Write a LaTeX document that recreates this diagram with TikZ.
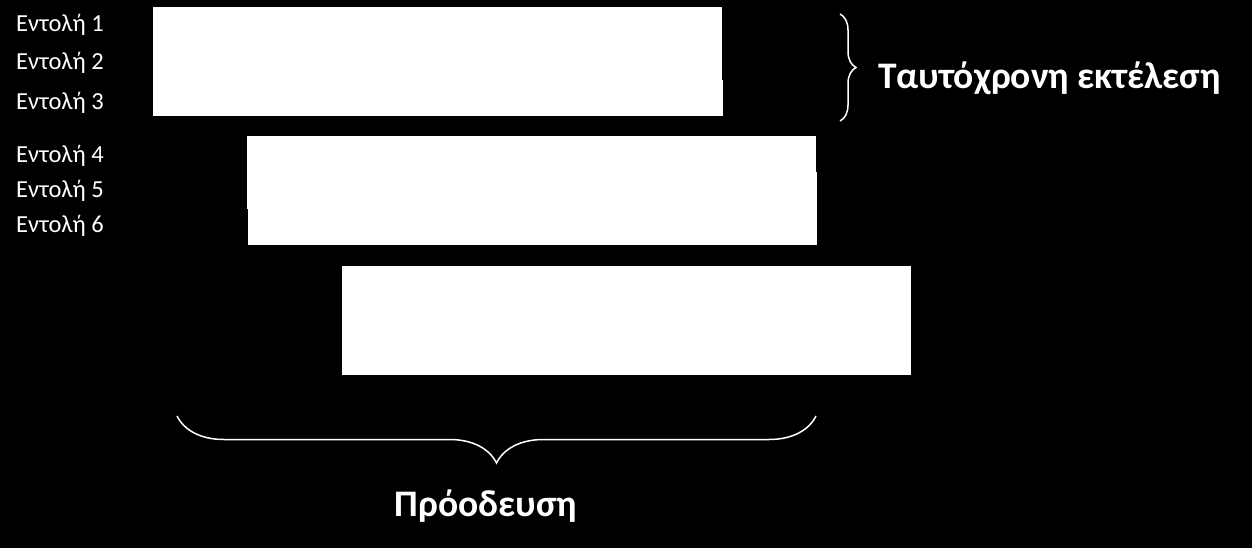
\documentclass[tikz,border=0pt]{standalone}
\usepackage{fontspec}
\setmainfont{Carlito}
\usetikzlibrary{calc}
\usetikzlibrary{decorations.pathreplacing}

\begin{document}
\begin{tikzpicture}[x=1pt,y=-1pt,
    row/.style={fill=white,inner sep=0pt,outer sep=0pt,minimum height=36.3pt,anchor=north west},
    lbl/.style={white,inner sep=0pt,anchor=base west,font=\fontsize{24.5}{29}\selectfont},
    ttl/.style={white,inner sep=0pt,font=\bfseries\fontsize{37.5}{45}\selectfont},
    brc/.style={white,line width=1.5pt,decorate}]
            % Define the sizes of the picture
            \def\W{1252}  % width of the picture
            \def\H{548}  % height of the picture

            % Black background
            \fill[black] (0,0) rectangle (\W,\H);
            \useasboundingbox (0,0) rectangle (\W,\H);

            % Draw the rows of the three blocks
            \foreach \i/\xa/\ya/\xb in {1/153/7/722, 2/153/43.3/722, 3/153/79.6/723,
                                        4/247/136/816, 5/247/172.3/817, 6/248/208.6/817,
                                        7/342/266/911, 8/342/302.3/911, 9/342/338.6/911}
                \node[row,minimum width={(\xb-\xa)*1pt}] (R\i) at (\xa,\ya) {};

            % Draw the labels of the instructions
            \foreach \i/\y in {1/32, 2/70, 3/110, 4/163, 5/197, 6/232}
                \node[lbl] (L\i) at (16,\y) {Εντολή \i};

            % Draw the braces
            \coordinate (S1) at (840,14);
            \coordinate (S2) at (840,121);
            \coordinate (P1) at (816,416);
            \coordinate (P2) at (177,416);
            \draw[brc,decoration={brace,amplitude=16pt}] (S1) -- (S2);
            \draw[brc,decoration={brace,amplitude=47pt}] (P1) -- (P2);

            % Draw the captions
            \node[ttl,anchor=base west] (par) at (878,89) {Ταυτόχρονη εκτέλεση};
            \node[ttl,anchor=base] (prog) at (486,516) {Πρόοδευση};
\end{tikzpicture}
\end{document}
